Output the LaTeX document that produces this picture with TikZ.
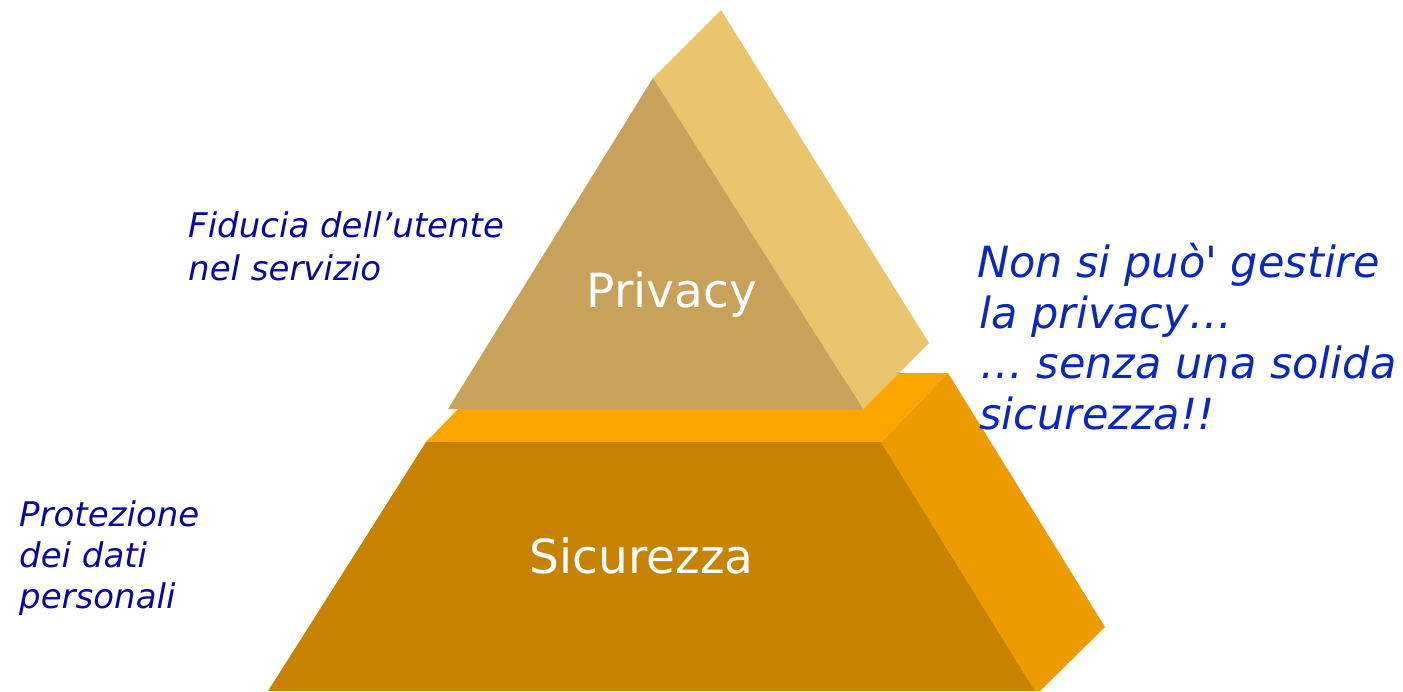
\documentclass[tikz,border=0pt]{standalone}
\usepackage{fontspec}
\setmainfont{DejaVu Sans}
\definecolor{tanfront}{RGB}{200,161,90}
\definecolor{tanside}{RGB}{235,196,110}
\definecolor{orgtop}{RGB}{255,165,0}
\definecolor{orgside}{RGB}{238,155,0}
\definecolor{orgfront}{RGB}{199,130,0}
\definecolor{navytext}{RGB}{10,10,150}
\definecolor{bluetext}{RGB}{12,40,185}
\tikzset{
  layerlabel/.style={text=white,inner sep=0pt,anchor=base,font=\fontsize{47}{56}\selectfont},
  leftnote/.style={text=navytext,inner sep=0pt,anchor=base west,font=\fontsize{34}{41}\selectfont\itshape},
  rightnote/.style={text=bluetext,inner sep=0pt,anchor=base west,font=\fontsize{43}{51}\selectfont\itshape}
}
\begin{document}
\begin{tikzpicture}[x=1pt,y=-1pt]
\useasboundingbox (0,0) rectangle (1403,691);
% lower block (Sicurezza)
\fill[orgside] (881,442) -- (948,373) -- (1105,627) -- (1040,691) -- (1035,691) -- cycle;
\fill[orgtop] (426,442) -- (881,442) -- (948,373) -- (493,373) -- cycle;
\fill[orgfront] (426,442) -- (881,442) -- (1035,691) -- (268,691) -- cycle;
% upper block (Privacy)
\fill[tanside] (653,78) -- (721,10) -- (929,343) -- (863,409) -- cycle;
\fill[tanfront] (653,78) -- (863,409) -- (448,409) -- cycle;
% labels
\node[layerlabel] (privacy) at (672,307) {Privacy};
\node[layerlabel] (sicurezza) at (641.5,573) {Sicurezza};
% left notes
\node[leftnote] (fid1) at (188,237) {Fiducia dell’utente};
\node[leftnote] (fid2) at (188,280) {nel servizio};
\node[leftnote] (pro1) at (19,526) {Protezione};
\node[leftnote] (pro2) at (19,567) {dei dati};
\node[leftnote] (pro3) at (19,608) {personali};
% right note
\node[rightnote] (r1) at (977,277) {Non si può\textquotesingle{} gestire};
\node[rightnote] (r2) at (979,328) {la privacy…};
\node[rightnote] (r3) at (980,378) {… senza una solida};
\node[rightnote] (r4) at (979,429) {sicurezza!!};
\end{tikzpicture}
\end{document}
